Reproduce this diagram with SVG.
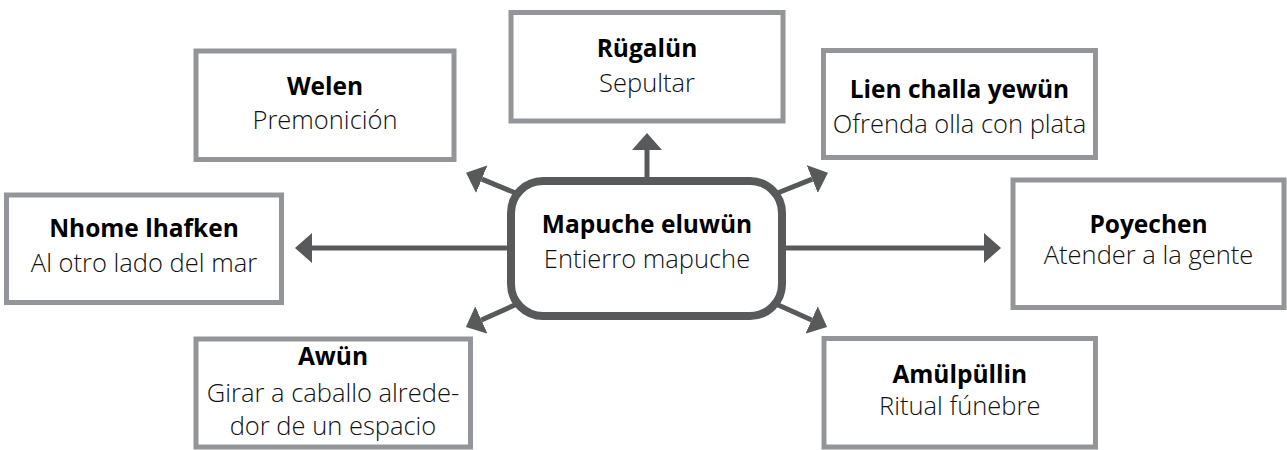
<svg xmlns="http://www.w3.org/2000/svg" width="1287" height="450" viewBox="0 0 1287 450">
<defs>
<style>
.box{fill:#fff;stroke:#939598;stroke-width:5}
.center{fill:#fff;stroke:#58595b;stroke-width:8}
.t{font-family:"Open Sans","Noto Sans","DejaVu Sans",sans-serif;font-size:24.5px;font-weight:700;fill:#000;text-anchor:middle}
.s{font-family:"Open Sans","Noto Sans","DejaVu Sans",sans-serif;font-size:25.5px;font-weight:300;fill:#111;text-anchor:middle}
.c{fill:none;stroke:#58595b;stroke-width:5}
</style>
<marker id="ah" markerUnits="userSpaceOnUse" viewBox="0 0 17 30" markerWidth="17" markerHeight="30" refX="0" refY="15" orient="auto">
<path d="M0,0 L17,15 L0,30 Z" fill="#58595b"/>
</marker>
</defs>
<g id="connectors">
<line class="c" x1="511" y1="248" x2="312" y2="248" marker-end="url(#ah)"/>
<line class="c" x1="782" y1="248" x2="984" y2="248" marker-end="url(#ah)"/>
<line class="c" x1="647" y1="181" x2="647" y2="150" marker-end="url(#ah)"/>
<line class="c" x1="518" y1="194" x2="481.8" y2="179.1" marker-end="url(#ah)"/>
<line class="c" x1="775" y1="194" x2="812.2" y2="179.1" marker-end="url(#ah)"/>
<line class="c" x1="517" y1="304" x2="481.4" y2="320" marker-end="url(#ah)"/>
<line class="c" x1="776" y1="304" x2="811.6" y2="320" marker-end="url(#ah)"/>
</g>
<g id="central">
<rect class="center" x="511" y="181" width="271" height="135" rx="32"/>
<text class="t" x="647" y="233">Mapuche eluwün</text>
<text class="s" x="647" y="268">Entierro mapuche</text>
</g>
<g id="welen">
<rect class="box" x="196" y="51" width="258" height="108.5"/>
<text class="t" x="325" y="95">Welen</text>
<text class="s" x="325" y="129">Premonición</text>
</g>
<g id="rugalun">
<rect class="box" x="511" y="12.5" width="272" height="108.5"/>
<text class="t" x="647" y="57">Rügalün</text>
<text class="s" x="647" y="92">Sepultar</text>
</g>
<g id="lien">
<rect class="box" x="823.5" y="50.5" width="272" height="107"/>
<text class="t" x="959.5" y="98">Lien challa yewün</text>
<text class="s" x="959.5" y="133">Ofrenda olla con plata</text>
</g>
<g id="nhome">
<rect class="box" x="6.5" y="195" width="275" height="107.5"/>
<text class="t" x="144" y="237">Nhome lhafken</text>
<text class="s" x="144" y="272">Al otro lado del mar</text>
</g>
<g id="poyechen">
<rect class="box" x="1013" y="180" width="271" height="127.5"/>
<text class="t" x="1148.5" y="233">Poyechen</text>
<text class="s" x="1148.5" y="264">Atender a la gente</text>
</g>
<g id="awun">
<rect class="box" x="196" y="339" width="274.5" height="108"/>
<text class="t" x="333" y="365">Awün</text>
<text class="s" x="333" y="402">Girar a caballo alrede-</text>
<text class="s" x="333" y="435">dor de un espacio</text>
</g>
<g id="amulpullin">
<rect class="box" x="824" y="338.5" width="271.5" height="108.5"/>
<text class="t" x="959.75" y="383">Amülpüllin</text>
<text class="s" x="959.75" y="415">Ritual fúnebre</text>
</g>
</svg>
